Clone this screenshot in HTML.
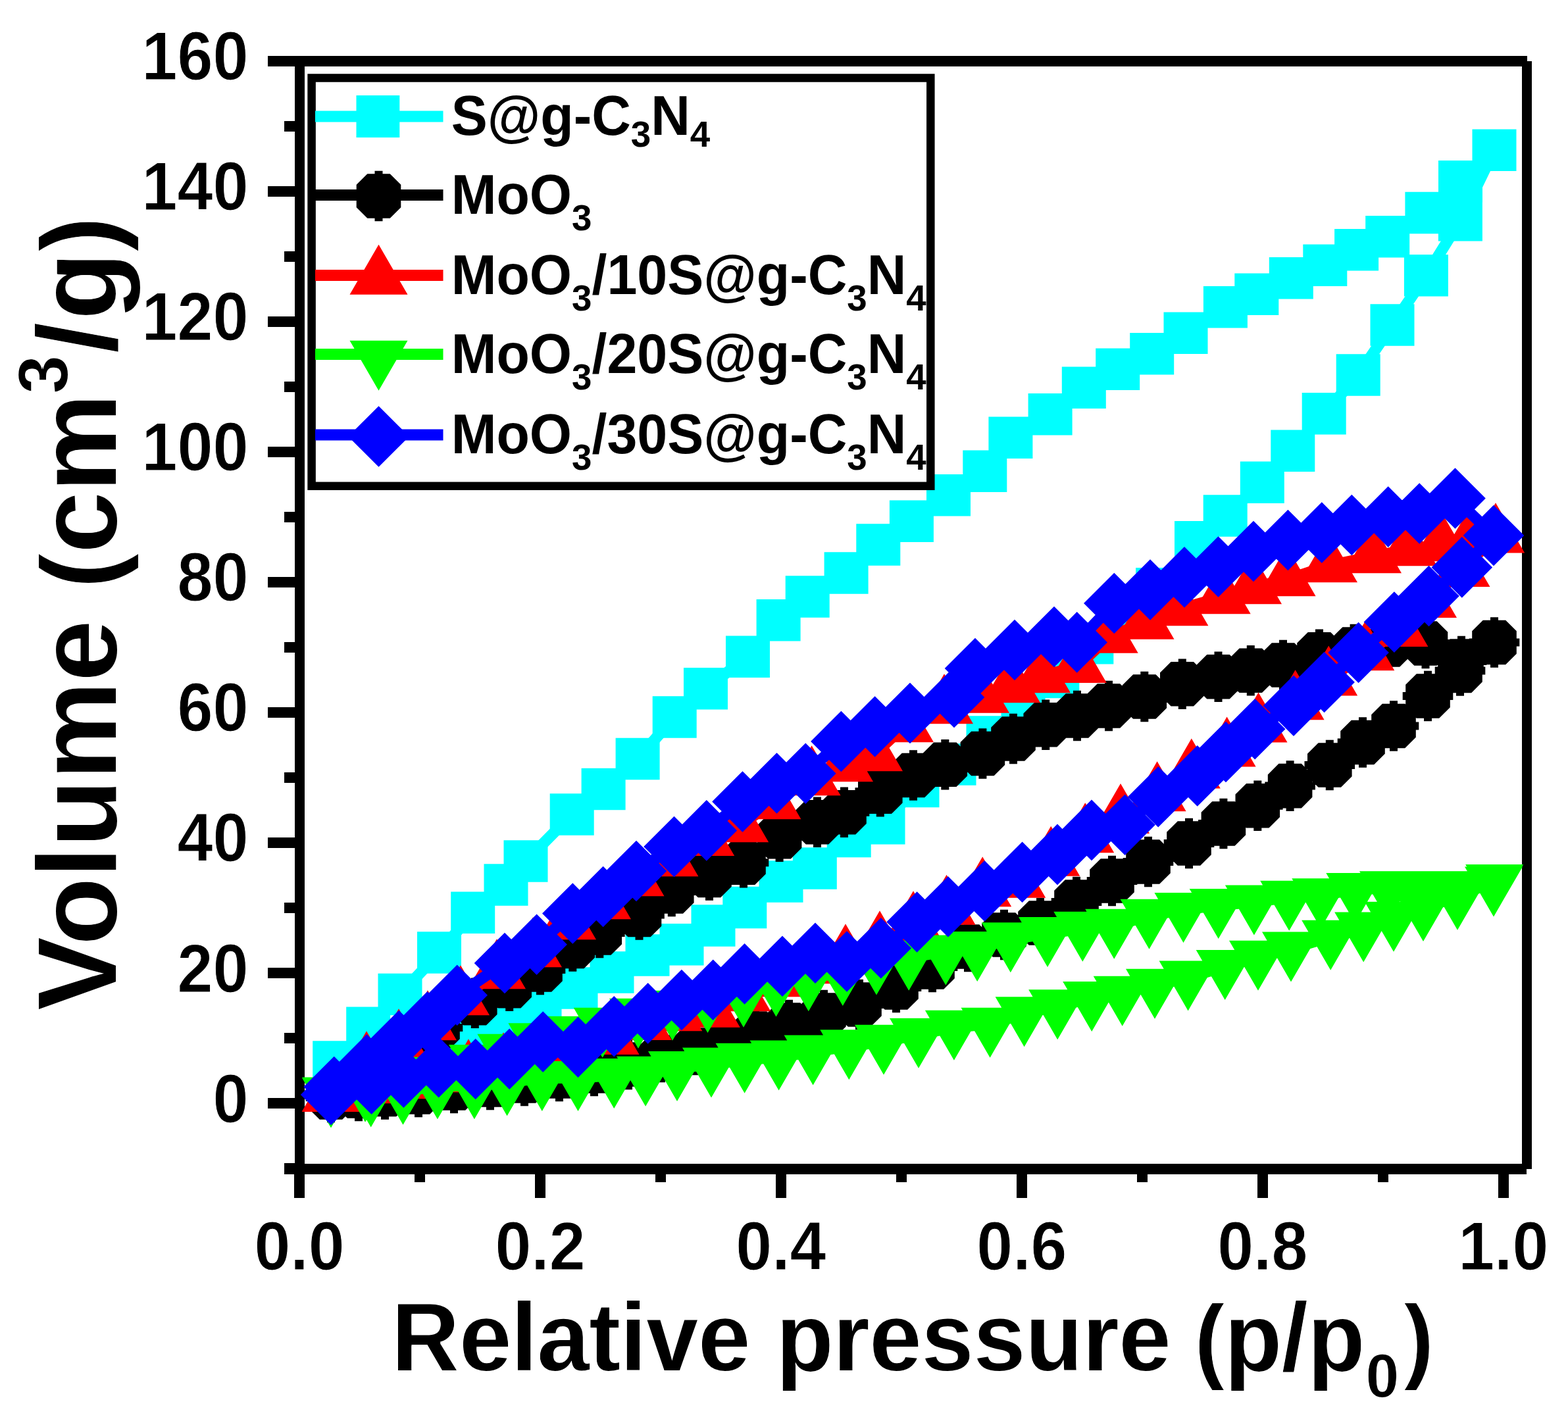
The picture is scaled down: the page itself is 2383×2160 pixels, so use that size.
<!DOCTYPE html>
<html lang="en"><head><meta charset="utf-8"><title>Nitrogen adsorption-desorption isotherms</title>
<style>
html,body{margin:0;padding:0;background:#fff}
body{width:2383px;height:2160px;overflow:hidden}
svg{display:block}
text{font-family:"Liberation Sans",Arial,Helvetica,sans-serif;font-weight:700;fill:#000}
.tk{font-size:103px;stroke:#fff;stroke-width:1px}
.xt{font-size:149px}
.yt{font-size:172px}
.lg{font-size:84.5px}
</style></head><body>
<svg xmlns="http://www.w3.org/2000/svg" width="2383" height="2160" viewBox="0 0 2383 2160">
<rect width="2383" height="2160" fill="#fff"/>
<defs>
<clipPath id="plot"><rect x="455" y="93" width="1866" height="1684"/></clipPath>
<filter id="thinY" filterUnits="userSpaceOnUse" x="0" y="0" width="2383" height="2160" color-interpolation-filters="sRGB"><feOffset in="SourceGraphic" dx="0" dy="1.0" result="a"/><feOffset in="SourceGraphic" dx="0" dy="-1.0" result="b"/><feComposite in="a" in2="b" operator="in"/></filter>
<filter id="thinX" filterUnits="userSpaceOnUse" x="0" y="0" width="2383" height="2160" color-interpolation-filters="sRGB"><feOffset in="SourceGraphic" dx="1.0" dy="0" result="a"/><feOffset in="SourceGraphic" dx="-1.0" dy="0" result="b"/><feComposite in="a" in2="b" operator="in"/></filter>
<filter id="thinYs" filterUnits="userSpaceOnUse" x="0" y="0" width="2383" height="2160" color-interpolation-filters="sRGB"><feOffset in="SourceGraphic" dx="0" dy="0.8" result="a"/><feOffset in="SourceGraphic" dx="0" dy="-0.8" result="b"/><feComposite in="a" in2="b" operator="in"/></filter>
</defs>
<g fill="#000" shape-rendering="crispEdges">
<rect x="407" y="85" width="1913.5" height="16.3"/>
<rect x="431.6" y="1769.2" width="1888.6" height="16"/>
<rect x="447.5" y="93" width="15.5" height="1727.5"/>
<rect x="2313" y="93" width="15.4" height="1684"/>
<rect x="431.6" y="1768.2" width="17" height="16.2"/>
<rect x="407" y="1669.2" width="42" height="16.2"/>
<rect x="431.6" y="1570.2" width="17" height="16.2"/>
<rect x="407" y="1471.2" width="42" height="16.2"/>
<rect x="431.6" y="1372.1" width="17" height="16.2"/>
<rect x="407" y="1273.1" width="42" height="16.2"/>
<rect x="431.6" y="1174.1" width="17" height="16.2"/>
<rect x="407" y="1075.1" width="42" height="16.2"/>
<rect x="431.6" y="976.1" width="17" height="16.2"/>
<rect x="407" y="877" width="42" height="16.2"/>
<rect x="431.6" y="778" width="17" height="16.2"/>
<rect x="407" y="679" width="42" height="16.2"/>
<rect x="431.6" y="580" width="17" height="16.2"/>
<rect x="407" y="481" width="42" height="16.2"/>
<rect x="431.6" y="381.9" width="17" height="16.2"/>
<rect x="407" y="282.9" width="42" height="16.2"/>
<rect x="431.6" y="183.9" width="17" height="16.2"/>
<rect x="407" y="84.9" width="42" height="16.2"/>
<rect x="447.2" y="1777" width="15.6" height="43.5"/>
<rect x="630.2" y="1777" width="15.6" height="20.3"/>
<rect x="813.2" y="1777" width="15.6" height="43.5"/>
<rect x="996.1" y="1777" width="15.6" height="20.3"/>
<rect x="1179.1" y="1777" width="15.6" height="43.5"/>
<rect x="1362.1" y="1777" width="15.6" height="20.3"/>
<rect x="1545.1" y="1777" width="15.6" height="43.5"/>
<rect x="1728.1" y="1777" width="15.6" height="20.3"/>
<rect x="1911" y="1777" width="15.6" height="43.5"/>
<rect x="2094" y="1777" width="15.6" height="20.3"/>
<rect x="2277" y="1777" width="15.6" height="43.5"/>
</g>
<g clip-path="url(#plot)">
<g fill="#00ffff" stroke="none">
<polyline points="508.7,1614.1 560,1625 610,1614 660,1598 712,1575 765,1552 820,1527 875,1502 930,1478 984,1452 1036,1435.7 1084,1407 1131.8,1379.6 1187,1340 1238.3,1320 1290.2,1271.6 1342,1251.7 1394,1195.5 1450,1162 1502,1120 1555,1075 1606.8,1029.6 1658.8,977.7 1710,935 1759.6,894.8 1818.5,823.6 1862.2,784 1918.3,733.3 1964.8,685.4 2012.2,628.6 2064.2,570 2116,494 2167.4,418.7 2219.4,334.7 2271,228.3 2271,228.3 2219.5,275.6 2168.9,323.5 2108.7,359.6 2061.6,379.6 2013.8,403.4 1962.3,422.6 1909.8,447.2 1862.4,466.6 1802,506.3 1750.7,537.9 1698.7,561.2 1647.3,589.4 1596.1,629.6 1535.9,665.2 1496.8,716.3 1441.5,752.7 1385.4,792.4 1334.8,828 1286.1,871 1227.2,907 1183.1,942.7 1136.5,998.2 1072.5,1046.7 1025.2,1089.9 969.1,1153.4 917.1,1199.4 869.2,1238 799,1309 769,1345 718.7,1387.2 667.5,1448 608,1511.5 559.7,1562.2 508.7,1614.1" fill="none" stroke="#00ffff" stroke-width="17" stroke-linejoin="round"/>
<path d="M475.2 1582.3h67v63.5h-67zM526.5 1593.2h67v63.5h-67zM576.5 1582.2h67v63.5h-67zM626.5 1566.2h67v63.5h-67zM678.5 1543.2h67v63.5h-67zM731.5 1520.2h67v63.5h-67zM786.5 1495.2h67v63.5h-67zM841.5 1470.2h67v63.5h-67zM896.5 1446.2h67v63.5h-67zM950.5 1420.2h67v63.5h-67zM1002.5 1404h67v63.5h-67zM1050.5 1375.2h67v63.5h-67zM1098.3 1347.8h67v63.5h-67zM1153.5 1308.2h67v63.5h-67zM1204.8 1288.2h67v63.5h-67zM1256.7 1239.8h67v63.5h-67zM1308.5 1220h67v63.5h-67zM1360.5 1163.8h67v63.5h-67zM1416.5 1130.2h67v63.5h-67zM1468.5 1088.2h67v63.5h-67zM1521.5 1043.2h67v63.5h-67zM1573.3 997.8h67v63.5h-67zM1625.3 946h67v63.5h-67zM1676.5 903.2h67v63.5h-67zM1726.1 863h67v63.5h-67zM1785 791.9h67v63.5h-67zM1828.7 752.2h67v63.5h-67zM1884.8 701.5h67v63.5h-67zM1931.3 653.6h67v63.5h-67zM1978.7 596.9h67v63.5h-67zM2030.7 538.2h67v63.5h-67zM2082.5 462.2h67v63.5h-67zM2133.9 386.9h67v63.5h-67zM2185.9 302.9h67v63.5h-67zM2237.5 196.6h67v63.5h-67zM2237.5 196.6h67v63.5h-67zM2186 243.9h67v63.5h-67zM2135.4 291.8h67v63.5h-67zM2075.2 327.9h67v63.5h-67zM2028.1 347.9h67v63.5h-67zM1980.3 371.6h67v63.5h-67zM1928.8 390.9h67v63.5h-67zM1876.3 415.4h67v63.5h-67zM1828.9 434.9h67v63.5h-67zM1768.5 474.6h67v63.5h-67zM1717.2 506.1h67v63.5h-67zM1665.2 529.5h67v63.5h-67zM1613.8 557.6h67v63.5h-67zM1562.6 597.9h67v63.5h-67zM1502.4 633.5h67v63.5h-67zM1463.3 684.5h67v63.5h-67zM1408 721h67v63.5h-67zM1351.9 760.6h67v63.5h-67zM1301.3 796.2h67v63.5h-67zM1252.6 839.2h67v63.5h-67zM1193.7 875.2h67v63.5h-67zM1149.6 911h67v63.5h-67zM1103 966.5h67v63.5h-67zM1039 1015h67v63.5h-67zM991.7 1058.2h67v63.5h-67zM935.6 1121.7h67v63.5h-67zM883.6 1167.7h67v63.5h-67zM835.7 1206.2h67v63.5h-67zM765.5 1277.2h67v63.5h-67zM735.5 1313.2h67v63.5h-67zM685.2 1355.5h67v63.5h-67zM634 1416.2h67v63.5h-67zM574.5 1479.8h67v63.5h-67zM526.2 1530.5h67v63.5h-67zM475.2 1582.3h67v63.5h-67z"/>
</g>
<g fill="#000000" stroke="none">
<polyline points="503,1668 545,1666 585,1663.5 636,1660 690,1654 745,1649 797,1643 850,1636 903,1628 955,1618 1005,1607 1055,1596 1100,1585 1148,1571 1199,1558 1252,1543 1306,1527 1362,1501 1417,1470 1471,1439 1526,1421 1581,1403 1636,1371 1690,1339 1745,1310 1807,1282 1859.4,1252 1911.3,1224.7 1960.6,1194.6 2020.8,1163 2071,1128.5 2118,1103.5 2170,1058 2219,1019.4 2271,976.5 2271,976.5 2221,1005 2166.5,978 2110,980 2057.6,987 2005,994.8 1950,1011 1900.8,1019.3 1851.5,1028.8 1796.8,1039.8 1739.3,1059 1685,1073 1637,1088 1589.2,1101.7 1540,1123 1493.4,1145.5 1436.3,1162.3 1388,1178.5 1337.8,1203.3 1283,1234.8 1242,1249.8 1184.6,1271.7 1130,1311.3 1078,1330.5 1020.8,1355 971.5,1390.5 911.3,1418 870.3,1438.4 821,1474 774.2,1498.6 721.8,1524.8 665,1562 610,1598 555,1630 503,1664" fill="none" stroke="#000000" stroke-width="17" stroke-linejoin="round"/>
<path d="M497 1634.2L497 1629.7L509 1629.7L509 1634.2L520.2 1634.2L536.8 1650.8L536.8 1662L541.3 1662L541.3 1674L536.8 1674L536.8 1685.2L520.2 1701.8L509 1701.8L509 1706.3L497 1706.3L497 1701.8L485.8 1701.8L469.2 1685.2L469.2 1674L464.7 1674L464.7 1662L469.2 1662L469.2 1650.8L485.8 1634.2zM539 1632.2L539 1627.7L551 1627.7L551 1632.2L562.2 1632.2L578.8 1648.8L578.8 1660L583.3 1660L583.3 1672L578.8 1672L578.8 1683.2L562.2 1699.8L551 1699.8L551 1704.3L539 1704.3L539 1699.8L527.8 1699.8L511.2 1683.2L511.2 1672L506.7 1672L506.7 1660L511.2 1660L511.2 1648.8L527.8 1632.2zM579 1629.7L579 1625.2L591 1625.2L591 1629.7L602.2 1629.7L618.8 1646.3L618.8 1657.5L623.3 1657.5L623.3 1669.5L618.8 1669.5L618.8 1680.7L602.2 1697.3L591 1697.3L591 1701.8L579 1701.8L579 1697.3L567.8 1697.3L551.2 1680.7L551.2 1669.5L546.7 1669.5L546.7 1657.5L551.2 1657.5L551.2 1646.3L567.8 1629.7zM630 1626.2L630 1621.7L642 1621.7L642 1626.2L653.2 1626.2L669.8 1642.8L669.8 1654L674.3 1654L674.3 1666L669.8 1666L669.8 1677.2L653.2 1693.8L642 1693.8L642 1698.3L630 1698.3L630 1693.8L618.8 1693.8L602.2 1677.2L602.2 1666L597.7 1666L597.7 1654L602.2 1654L602.2 1642.8L618.8 1626.2zM684 1620.2L684 1615.7L696 1615.7L696 1620.2L707.2 1620.2L723.8 1636.8L723.8 1648L728.3 1648L728.3 1660L723.8 1660L723.8 1671.2L707.2 1687.8L696 1687.8L696 1692.3L684 1692.3L684 1687.8L672.8 1687.8L656.2 1671.2L656.2 1660L651.7 1660L651.7 1648L656.2 1648L656.2 1636.8L672.8 1620.2zM739 1615.2L739 1610.7L751 1610.7L751 1615.2L762.2 1615.2L778.8 1631.8L778.8 1643L783.3 1643L783.3 1655L778.8 1655L778.8 1666.2L762.2 1682.8L751 1682.8L751 1687.3L739 1687.3L739 1682.8L727.8 1682.8L711.2 1666.2L711.2 1655L706.7 1655L706.7 1643L711.2 1643L711.2 1631.8L727.8 1615.2zM791 1609.2L791 1604.7L803 1604.7L803 1609.2L814.2 1609.2L830.8 1625.8L830.8 1637L835.3 1637L835.3 1649L830.8 1649L830.8 1660.2L814.2 1676.8L803 1676.8L803 1681.3L791 1681.3L791 1676.8L779.8 1676.8L763.2 1660.2L763.2 1649L758.7 1649L758.7 1637L763.2 1637L763.2 1625.8L779.8 1609.2zM844 1602.2L844 1597.7L856 1597.7L856 1602.2L867.2 1602.2L883.8 1618.8L883.8 1630L888.3 1630L888.3 1642L883.8 1642L883.8 1653.2L867.2 1669.8L856 1669.8L856 1674.3L844 1674.3L844 1669.8L832.8 1669.8L816.2 1653.2L816.2 1642L811.7 1642L811.7 1630L816.2 1630L816.2 1618.8L832.8 1602.2zM897 1594.2L897 1589.7L909 1589.7L909 1594.2L920.2 1594.2L936.8 1610.8L936.8 1622L941.3 1622L941.3 1634L936.8 1634L936.8 1645.2L920.2 1661.8L909 1661.8L909 1666.3L897 1666.3L897 1661.8L885.8 1661.8L869.2 1645.2L869.2 1634L864.7 1634L864.7 1622L869.2 1622L869.2 1610.8L885.8 1594.2zM949 1584.2L949 1579.7L961 1579.7L961 1584.2L972.2 1584.2L988.8 1600.8L988.8 1612L993.3 1612L993.3 1624L988.8 1624L988.8 1635.2L972.2 1651.8L961 1651.8L961 1656.3L949 1656.3L949 1651.8L937.8 1651.8L921.2 1635.2L921.2 1624L916.7 1624L916.7 1612L921.2 1612L921.2 1600.8L937.8 1584.2zM999 1573.2L999 1568.7L1011 1568.7L1011 1573.2L1022.2 1573.2L1038.8 1589.8L1038.8 1601L1043.3 1601L1043.3 1613L1038.8 1613L1038.8 1624.2L1022.2 1640.8L1011 1640.8L1011 1645.3L999 1645.3L999 1640.8L987.8 1640.8L971.2 1624.2L971.2 1613L966.7 1613L966.7 1601L971.2 1601L971.2 1589.8L987.8 1573.2zM1049 1562.2L1049 1557.7L1061 1557.7L1061 1562.2L1072.2 1562.2L1088.8 1578.8L1088.8 1590L1093.3 1590L1093.3 1602L1088.8 1602L1088.8 1613.2L1072.2 1629.8L1061 1629.8L1061 1634.3L1049 1634.3L1049 1629.8L1037.8 1629.8L1021.2 1613.2L1021.2 1602L1016.7 1602L1016.7 1590L1021.2 1590L1021.2 1578.8L1037.8 1562.2zM1094 1551.2L1094 1546.7L1106 1546.7L1106 1551.2L1117.2 1551.2L1133.8 1567.8L1133.8 1579L1138.3 1579L1138.3 1591L1133.8 1591L1133.8 1602.2L1117.2 1618.8L1106 1618.8L1106 1623.3L1094 1623.3L1094 1618.8L1082.8 1618.8L1066.2 1602.2L1066.2 1591L1061.7 1591L1061.7 1579L1066.2 1579L1066.2 1567.8L1082.8 1551.2zM1142 1537.2L1142 1532.7L1154 1532.7L1154 1537.2L1165.2 1537.2L1181.8 1553.8L1181.8 1565L1186.3 1565L1186.3 1577L1181.8 1577L1181.8 1588.2L1165.2 1604.8L1154 1604.8L1154 1609.3L1142 1609.3L1142 1604.8L1130.8 1604.8L1114.2 1588.2L1114.2 1577L1109.7 1577L1109.7 1565L1114.2 1565L1114.2 1553.8L1130.8 1537.2zM1193 1524.2L1193 1519.7L1205 1519.7L1205 1524.2L1216.2 1524.2L1232.8 1540.8L1232.8 1552L1237.3 1552L1237.3 1564L1232.8 1564L1232.8 1575.2L1216.2 1591.8L1205 1591.8L1205 1596.3L1193 1596.3L1193 1591.8L1181.8 1591.8L1165.2 1575.2L1165.2 1564L1160.7 1564L1160.7 1552L1165.2 1552L1165.2 1540.8L1181.8 1524.2zM1246 1509.2L1246 1504.7L1258 1504.7L1258 1509.2L1269.2 1509.2L1285.8 1525.8L1285.8 1537L1290.3 1537L1290.3 1549L1285.8 1549L1285.8 1560.2L1269.2 1576.8L1258 1576.8L1258 1581.3L1246 1581.3L1246 1576.8L1234.8 1576.8L1218.2 1560.2L1218.2 1549L1213.7 1549L1213.7 1537L1218.2 1537L1218.2 1525.8L1234.8 1509.2zM1300 1493.2L1300 1488.7L1312 1488.7L1312 1493.2L1323.2 1493.2L1339.8 1509.8L1339.8 1521L1344.3 1521L1344.3 1533L1339.8 1533L1339.8 1544.2L1323.2 1560.8L1312 1560.8L1312 1565.3L1300 1565.3L1300 1560.8L1288.8 1560.8L1272.2 1544.2L1272.2 1533L1267.7 1533L1267.7 1521L1272.2 1521L1272.2 1509.8L1288.8 1493.2zM1356 1467.2L1356 1462.7L1368 1462.7L1368 1467.2L1379.2 1467.2L1395.8 1483.8L1395.8 1495L1400.3 1495L1400.3 1507L1395.8 1507L1395.8 1518.2L1379.2 1534.8L1368 1534.8L1368 1539.3L1356 1539.3L1356 1534.8L1344.8 1534.8L1328.2 1518.2L1328.2 1507L1323.7 1507L1323.7 1495L1328.2 1495L1328.2 1483.8L1344.8 1467.2zM1411 1436.2L1411 1431.7L1423 1431.7L1423 1436.2L1434.2 1436.2L1450.8 1452.8L1450.8 1464L1455.3 1464L1455.3 1476L1450.8 1476L1450.8 1487.2L1434.2 1503.8L1423 1503.8L1423 1508.3L1411 1508.3L1411 1503.8L1399.8 1503.8L1383.2 1487.2L1383.2 1476L1378.7 1476L1378.7 1464L1383.2 1464L1383.2 1452.8L1399.8 1436.2zM1465 1405.2L1465 1400.7L1477 1400.7L1477 1405.2L1488.2 1405.2L1504.8 1421.8L1504.8 1433L1509.3 1433L1509.3 1445L1504.8 1445L1504.8 1456.2L1488.2 1472.8L1477 1472.8L1477 1477.3L1465 1477.3L1465 1472.8L1453.8 1472.8L1437.2 1456.2L1437.2 1445L1432.7 1445L1432.7 1433L1437.2 1433L1437.2 1421.8L1453.8 1405.2zM1520 1387.2L1520 1382.7L1532 1382.7L1532 1387.2L1543.2 1387.2L1559.8 1403.8L1559.8 1415L1564.3 1415L1564.3 1427L1559.8 1427L1559.8 1438.2L1543.2 1454.8L1532 1454.8L1532 1459.3L1520 1459.3L1520 1454.8L1508.8 1454.8L1492.2 1438.2L1492.2 1427L1487.7 1427L1487.7 1415L1492.2 1415L1492.2 1403.8L1508.8 1387.2zM1575 1369.2L1575 1364.7L1587 1364.7L1587 1369.2L1598.2 1369.2L1614.8 1385.8L1614.8 1397L1619.3 1397L1619.3 1409L1614.8 1409L1614.8 1420.2L1598.2 1436.8L1587 1436.8L1587 1441.3L1575 1441.3L1575 1436.8L1563.8 1436.8L1547.2 1420.2L1547.2 1409L1542.7 1409L1542.7 1397L1547.2 1397L1547.2 1385.8L1563.8 1369.2zM1630 1337.2L1630 1332.7L1642 1332.7L1642 1337.2L1653.2 1337.2L1669.8 1353.8L1669.8 1365L1674.3 1365L1674.3 1377L1669.8 1377L1669.8 1388.2L1653.2 1404.8L1642 1404.8L1642 1409.3L1630 1409.3L1630 1404.8L1618.8 1404.8L1602.2 1388.2L1602.2 1377L1597.7 1377L1597.7 1365L1602.2 1365L1602.2 1353.8L1618.8 1337.2zM1684 1305.2L1684 1300.7L1696 1300.7L1696 1305.2L1707.2 1305.2L1723.8 1321.8L1723.8 1333L1728.3 1333L1728.3 1345L1723.8 1345L1723.8 1356.2L1707.2 1372.8L1696 1372.8L1696 1377.3L1684 1377.3L1684 1372.8L1672.8 1372.8L1656.2 1356.2L1656.2 1345L1651.7 1345L1651.7 1333L1656.2 1333L1656.2 1321.8L1672.8 1305.2zM1739 1276.2L1739 1271.7L1751 1271.7L1751 1276.2L1762.2 1276.2L1778.8 1292.8L1778.8 1304L1783.3 1304L1783.3 1316L1778.8 1316L1778.8 1327.2L1762.2 1343.8L1751 1343.8L1751 1348.3L1739 1348.3L1739 1343.8L1727.8 1343.8L1711.2 1327.2L1711.2 1316L1706.7 1316L1706.7 1304L1711.2 1304L1711.2 1292.8L1727.8 1276.2zM1801 1248.2L1801 1243.7L1813 1243.7L1813 1248.2L1824.2 1248.2L1840.8 1264.8L1840.8 1276L1845.3 1276L1845.3 1288L1840.8 1288L1840.8 1299.2L1824.2 1315.8L1813 1315.8L1813 1320.3L1801 1320.3L1801 1315.8L1789.8 1315.8L1773.2 1299.2L1773.2 1288L1768.7 1288L1768.7 1276L1773.2 1276L1773.2 1264.8L1789.8 1248.2zM1853.4 1218.2L1853.4 1213.7L1865.4 1213.7L1865.4 1218.2L1876.6 1218.2L1893.2 1234.8L1893.2 1246L1897.7 1246L1897.7 1258L1893.2 1258L1893.2 1269.2L1876.6 1285.8L1865.4 1285.8L1865.4 1290.3L1853.4 1290.3L1853.4 1285.8L1842.2 1285.8L1825.6 1269.2L1825.6 1258L1821.1 1258L1821.1 1246L1825.6 1246L1825.6 1234.8L1842.2 1218.2zM1905.3 1190.9L1905.3 1186.4L1917.3 1186.4L1917.3 1190.9L1928.5 1190.9L1945.1 1207.5L1945.1 1218.7L1949.6 1218.7L1949.6 1230.7L1945.1 1230.7L1945.1 1241.9L1928.5 1258.5L1917.3 1258.5L1917.3 1263L1905.3 1263L1905.3 1258.5L1894.1 1258.5L1877.5 1241.9L1877.5 1230.7L1873 1230.7L1873 1218.7L1877.5 1218.7L1877.5 1207.5L1894.1 1190.9zM1954.6 1160.8L1954.6 1156.3L1966.6 1156.3L1966.6 1160.8L1977.8 1160.8L1994.4 1177.4L1994.4 1188.6L1998.9 1188.6L1998.9 1200.6L1994.4 1200.6L1994.4 1211.8L1977.8 1228.4L1966.6 1228.4L1966.6 1232.9L1954.6 1232.9L1954.6 1228.4L1943.4 1228.4L1926.8 1211.8L1926.8 1200.6L1922.3 1200.6L1922.3 1188.6L1926.8 1188.6L1926.8 1177.4L1943.4 1160.8zM2014.8 1129.2L2014.8 1124.7L2026.8 1124.7L2026.8 1129.2L2038 1129.2L2054.6 1145.8L2054.6 1157L2059.1 1157L2059.1 1169L2054.6 1169L2054.6 1180.2L2038 1196.8L2026.8 1196.8L2026.8 1201.3L2014.8 1201.3L2014.8 1196.8L2003.6 1196.8L1987 1180.2L1987 1169L1982.5 1169L1982.5 1157L1987 1157L1987 1145.8L2003.6 1129.2zM2065 1094.7L2065 1090.2L2077 1090.2L2077 1094.7L2088.2 1094.7L2104.8 1111.3L2104.8 1122.5L2109.3 1122.5L2109.3 1134.5L2104.8 1134.5L2104.8 1145.7L2088.2 1162.3L2077 1162.3L2077 1166.8L2065 1166.8L2065 1162.3L2053.8 1162.3L2037.2 1145.7L2037.2 1134.5L2032.7 1134.5L2032.7 1122.5L2037.2 1122.5L2037.2 1111.3L2053.8 1094.7zM2112 1069.7L2112 1065.2L2124 1065.2L2124 1069.7L2135.2 1069.7L2151.8 1086.3L2151.8 1097.5L2156.3 1097.5L2156.3 1109.5L2151.8 1109.5L2151.8 1120.7L2135.2 1137.3L2124 1137.3L2124 1141.8L2112 1141.8L2112 1137.3L2100.8 1137.3L2084.2 1120.7L2084.2 1109.5L2079.7 1109.5L2079.7 1097.5L2084.2 1097.5L2084.2 1086.3L2100.8 1069.7zM2164 1024.2L2164 1019.7L2176 1019.7L2176 1024.2L2187.2 1024.2L2203.8 1040.8L2203.8 1052L2208.3 1052L2208.3 1064L2203.8 1064L2203.8 1075.2L2187.2 1091.8L2176 1091.8L2176 1096.3L2164 1096.3L2164 1091.8L2152.8 1091.8L2136.2 1075.2L2136.2 1064L2131.7 1064L2131.7 1052L2136.2 1052L2136.2 1040.8L2152.8 1024.2zM2213 985.6L2213 981.1L2225 981.1L2225 985.6L2236.2 985.6L2252.8 1002.2L2252.8 1013.4L2257.3 1013.4L2257.3 1025.4L2252.8 1025.4L2252.8 1036.6L2236.2 1053.2L2225 1053.2L2225 1057.7L2213 1057.7L2213 1053.2L2201.8 1053.2L2185.2 1036.6L2185.2 1025.4L2180.7 1025.4L2180.7 1013.4L2185.2 1013.4L2185.2 1002.2L2201.8 985.6zM2265 942.7L2265 938.2L2277 938.2L2277 942.7L2288.2 942.7L2304.8 959.3L2304.8 970.5L2309.3 970.5L2309.3 982.5L2304.8 982.5L2304.8 993.7L2288.2 1010.3L2277 1010.3L2277 1014.8L2265 1014.8L2265 1010.3L2253.8 1010.3L2237.2 993.7L2237.2 982.5L2232.7 982.5L2232.7 970.5L2237.2 970.5L2237.2 959.3L2253.8 942.7zM2265 942.7L2265 938.2L2277 938.2L2277 942.7L2288.2 942.7L2304.8 959.3L2304.8 970.5L2309.3 970.5L2309.3 982.5L2304.8 982.5L2304.8 993.7L2288.2 1010.3L2277 1010.3L2277 1014.8L2265 1014.8L2265 1010.3L2253.8 1010.3L2237.2 993.7L2237.2 982.5L2232.7 982.5L2232.7 970.5L2237.2 970.5L2237.2 959.3L2253.8 942.7zM2215 971.2L2215 966.7L2227 966.7L2227 971.2L2238.2 971.2L2254.8 987.8L2254.8 999L2259.3 999L2259.3 1011L2254.8 1011L2254.8 1022.2L2238.2 1038.8L2227 1038.8L2227 1043.3L2215 1043.3L2215 1038.8L2203.8 1038.8L2187.2 1022.2L2187.2 1011L2182.7 1011L2182.7 999L2187.2 999L2187.2 987.8L2203.8 971.2zM2160.5 944.2L2160.5 939.7L2172.5 939.7L2172.5 944.2L2183.7 944.2L2200.3 960.8L2200.3 972L2204.8 972L2204.8 984L2200.3 984L2200.3 995.2L2183.7 1011.8L2172.5 1011.8L2172.5 1016.3L2160.5 1016.3L2160.5 1011.8L2149.3 1011.8L2132.7 995.2L2132.7 984L2128.2 984L2128.2 972L2132.7 972L2132.7 960.8L2149.3 944.2zM2104 946.2L2104 941.7L2116 941.7L2116 946.2L2127.2 946.2L2143.8 962.8L2143.8 974L2148.3 974L2148.3 986L2143.8 986L2143.8 997.2L2127.2 1013.8L2116 1013.8L2116 1018.3L2104 1018.3L2104 1013.8L2092.8 1013.8L2076.2 997.2L2076.2 986L2071.7 986L2071.7 974L2076.2 974L2076.2 962.8L2092.8 946.2zM2051.6 953.2L2051.6 948.7L2063.6 948.7L2063.6 953.2L2074.8 953.2L2091.4 969.8L2091.4 981L2095.9 981L2095.9 993L2091.4 993L2091.4 1004.2L2074.8 1020.8L2063.6 1020.8L2063.6 1025.3L2051.6 1025.3L2051.6 1020.8L2040.4 1020.8L2023.8 1004.2L2023.8 993L2019.3 993L2019.3 981L2023.8 981L2023.8 969.8L2040.4 953.2zM1999 961L1999 956.5L2011 956.5L2011 961L2022.2 961L2038.8 977.6L2038.8 988.8L2043.3 988.8L2043.3 1000.8L2038.8 1000.8L2038.8 1012L2022.2 1028.6L2011 1028.6L2011 1033.1L1999 1033.1L1999 1028.6L1987.8 1028.6L1971.2 1012L1971.2 1000.8L1966.7 1000.8L1966.7 988.8L1971.2 988.8L1971.2 977.6L1987.8 961zM1944 977.2L1944 972.7L1956 972.7L1956 977.2L1967.2 977.2L1983.8 993.8L1983.8 1005L1988.3 1005L1988.3 1017L1983.8 1017L1983.8 1028.2L1967.2 1044.8L1956 1044.8L1956 1049.3L1944 1049.3L1944 1044.8L1932.8 1044.8L1916.2 1028.2L1916.2 1017L1911.7 1017L1911.7 1005L1916.2 1005L1916.2 993.8L1932.8 977.2zM1894.8 985.5L1894.8 981L1906.8 981L1906.8 985.5L1918 985.5L1934.6 1002.1L1934.6 1013.3L1939.1 1013.3L1939.1 1025.3L1934.6 1025.3L1934.6 1036.5L1918 1053.1L1906.8 1053.1L1906.8 1057.6L1894.8 1057.6L1894.8 1053.1L1883.6 1053.1L1867 1036.5L1867 1025.3L1862.5 1025.3L1862.5 1013.3L1867 1013.3L1867 1002.1L1883.6 985.5zM1845.5 995L1845.5 990.5L1857.5 990.5L1857.5 995L1868.7 995L1885.3 1011.6L1885.3 1022.8L1889.8 1022.8L1889.8 1034.8L1885.3 1034.8L1885.3 1046L1868.7 1062.6L1857.5 1062.6L1857.5 1067.1L1845.5 1067.1L1845.5 1062.6L1834.3 1062.6L1817.7 1046L1817.7 1034.8L1813.2 1034.8L1813.2 1022.8L1817.7 1022.8L1817.7 1011.6L1834.3 995zM1790.8 1006L1790.8 1001.5L1802.8 1001.5L1802.8 1006L1814 1006L1830.6 1022.6L1830.6 1033.8L1835.1 1033.8L1835.1 1045.8L1830.6 1045.8L1830.6 1057L1814 1073.6L1802.8 1073.6L1802.8 1078.1L1790.8 1078.1L1790.8 1073.6L1779.6 1073.6L1763 1057L1763 1045.8L1758.5 1045.8L1758.5 1033.8L1763 1033.8L1763 1022.6L1779.6 1006zM1733.3 1025.2L1733.3 1020.7L1745.3 1020.7L1745.3 1025.2L1756.5 1025.2L1773.1 1041.8L1773.1 1053L1777.6 1053L1777.6 1065L1773.1 1065L1773.1 1076.2L1756.5 1092.8L1745.3 1092.8L1745.3 1097.3L1733.3 1097.3L1733.3 1092.8L1722.1 1092.8L1705.5 1076.2L1705.5 1065L1701 1065L1701 1053L1705.5 1053L1705.5 1041.8L1722.1 1025.2zM1679 1039.2L1679 1034.7L1691 1034.7L1691 1039.2L1702.2 1039.2L1718.8 1055.8L1718.8 1067L1723.3 1067L1723.3 1079L1718.8 1079L1718.8 1090.2L1702.2 1106.8L1691 1106.8L1691 1111.3L1679 1111.3L1679 1106.8L1667.8 1106.8L1651.2 1090.2L1651.2 1079L1646.7 1079L1646.7 1067L1651.2 1067L1651.2 1055.8L1667.8 1039.2zM1631 1054.2L1631 1049.7L1643 1049.7L1643 1054.2L1654.2 1054.2L1670.8 1070.8L1670.8 1082L1675.3 1082L1675.3 1094L1670.8 1094L1670.8 1105.2L1654.2 1121.8L1643 1121.8L1643 1126.3L1631 1126.3L1631 1121.8L1619.8 1121.8L1603.2 1105.2L1603.2 1094L1598.7 1094L1598.7 1082L1603.2 1082L1603.2 1070.8L1619.8 1054.2zM1583.2 1067.9L1583.2 1063.4L1595.2 1063.4L1595.2 1067.9L1606.4 1067.9L1623 1084.5L1623 1095.7L1627.5 1095.7L1627.5 1107.7L1623 1107.7L1623 1118.9L1606.4 1135.5L1595.2 1135.5L1595.2 1140L1583.2 1140L1583.2 1135.5L1572 1135.5L1555.4 1118.9L1555.4 1107.7L1550.9 1107.7L1550.9 1095.7L1555.4 1095.7L1555.4 1084.5L1572 1067.9zM1534 1089.2L1534 1084.7L1546 1084.7L1546 1089.2L1557.2 1089.2L1573.8 1105.8L1573.8 1117L1578.3 1117L1578.3 1129L1573.8 1129L1573.8 1140.2L1557.2 1156.8L1546 1156.8L1546 1161.3L1534 1161.3L1534 1156.8L1522.8 1156.8L1506.2 1140.2L1506.2 1129L1501.7 1129L1501.7 1117L1506.2 1117L1506.2 1105.8L1522.8 1089.2zM1487.4 1111.7L1487.4 1107.2L1499.4 1107.2L1499.4 1111.7L1510.6 1111.7L1527.2 1128.3L1527.2 1139.5L1531.7 1139.5L1531.7 1151.5L1527.2 1151.5L1527.2 1162.7L1510.6 1179.3L1499.4 1179.3L1499.4 1183.8L1487.4 1183.8L1487.4 1179.3L1476.2 1179.3L1459.6 1162.7L1459.6 1151.5L1455.1 1151.5L1455.1 1139.5L1459.6 1139.5L1459.6 1128.3L1476.2 1111.7zM1430.3 1128.5L1430.3 1124L1442.3 1124L1442.3 1128.5L1453.5 1128.5L1470.1 1145.1L1470.1 1156.3L1474.6 1156.3L1474.6 1168.3L1470.1 1168.3L1470.1 1179.5L1453.5 1196.1L1442.3 1196.1L1442.3 1200.6L1430.3 1200.6L1430.3 1196.1L1419.1 1196.1L1402.5 1179.5L1402.5 1168.3L1398 1168.3L1398 1156.3L1402.5 1156.3L1402.5 1145.1L1419.1 1128.5zM1382 1144.7L1382 1140.2L1394 1140.2L1394 1144.7L1405.2 1144.7L1421.8 1161.3L1421.8 1172.5L1426.3 1172.5L1426.3 1184.5L1421.8 1184.5L1421.8 1195.7L1405.2 1212.3L1394 1212.3L1394 1216.8L1382 1216.8L1382 1212.3L1370.8 1212.3L1354.2 1195.7L1354.2 1184.5L1349.7 1184.5L1349.7 1172.5L1354.2 1172.5L1354.2 1161.3L1370.8 1144.7zM1331.8 1169.5L1331.8 1165L1343.8 1165L1343.8 1169.5L1355 1169.5L1371.6 1186.1L1371.6 1197.3L1376.1 1197.3L1376.1 1209.3L1371.6 1209.3L1371.6 1220.5L1355 1237.1L1343.8 1237.1L1343.8 1241.6L1331.8 1241.6L1331.8 1237.1L1320.6 1237.1L1304 1220.5L1304 1209.3L1299.5 1209.3L1299.5 1197.3L1304 1197.3L1304 1186.1L1320.6 1169.5zM1277 1201L1277 1196.5L1289 1196.5L1289 1201L1300.2 1201L1316.8 1217.6L1316.8 1228.8L1321.3 1228.8L1321.3 1240.8L1316.8 1240.8L1316.8 1252L1300.2 1268.6L1289 1268.6L1289 1273.1L1277 1273.1L1277 1268.6L1265.8 1268.6L1249.2 1252L1249.2 1240.8L1244.7 1240.8L1244.7 1228.8L1249.2 1228.8L1249.2 1217.6L1265.8 1201zM1236 1216L1236 1211.5L1248 1211.5L1248 1216L1259.2 1216L1275.8 1232.6L1275.8 1243.8L1280.3 1243.8L1280.3 1255.8L1275.8 1255.8L1275.8 1267L1259.2 1283.6L1248 1283.6L1248 1288.1L1236 1288.1L1236 1283.6L1224.8 1283.6L1208.2 1267L1208.2 1255.8L1203.7 1255.8L1203.7 1243.8L1208.2 1243.8L1208.2 1232.6L1224.8 1216zM1178.6 1237.9L1178.6 1233.4L1190.6 1233.4L1190.6 1237.9L1201.8 1237.9L1218.4 1254.5L1218.4 1265.7L1222.9 1265.7L1222.9 1277.7L1218.4 1277.7L1218.4 1288.9L1201.8 1305.5L1190.6 1305.5L1190.6 1310L1178.6 1310L1178.6 1305.5L1167.4 1305.5L1150.8 1288.9L1150.8 1277.7L1146.3 1277.7L1146.3 1265.7L1150.8 1265.7L1150.8 1254.5L1167.4 1237.9zM1124 1277.5L1124 1273L1136 1273L1136 1277.5L1147.2 1277.5L1163.8 1294.1L1163.8 1305.3L1168.3 1305.3L1168.3 1317.3L1163.8 1317.3L1163.8 1328.5L1147.2 1345.1L1136 1345.1L1136 1349.6L1124 1349.6L1124 1345.1L1112.8 1345.1L1096.2 1328.5L1096.2 1317.3L1091.7 1317.3L1091.7 1305.3L1096.2 1305.3L1096.2 1294.1L1112.8 1277.5zM1072 1296.7L1072 1292.2L1084 1292.2L1084 1296.7L1095.2 1296.7L1111.8 1313.3L1111.8 1324.5L1116.3 1324.5L1116.3 1336.5L1111.8 1336.5L1111.8 1347.7L1095.2 1364.3L1084 1364.3L1084 1368.8L1072 1368.8L1072 1364.3L1060.8 1364.3L1044.2 1347.7L1044.2 1336.5L1039.7 1336.5L1039.7 1324.5L1044.2 1324.5L1044.2 1313.3L1060.8 1296.7zM1014.8 1321.2L1014.8 1316.7L1026.8 1316.7L1026.8 1321.2L1038 1321.2L1054.6 1337.8L1054.6 1349L1059.1 1349L1059.1 1361L1054.6 1361L1054.6 1372.2L1038 1388.8L1026.8 1388.8L1026.8 1393.3L1014.8 1393.3L1014.8 1388.8L1003.6 1388.8L987 1372.2L987 1361L982.5 1361L982.5 1349L987 1349L987 1337.8L1003.6 1321.2zM965.5 1356.7L965.5 1352.2L977.5 1352.2L977.5 1356.7L988.7 1356.7L1005.3 1373.3L1005.3 1384.5L1009.8 1384.5L1009.8 1396.5L1005.3 1396.5L1005.3 1407.7L988.7 1424.3L977.5 1424.3L977.5 1428.8L965.5 1428.8L965.5 1424.3L954.3 1424.3L937.7 1407.7L937.7 1396.5L933.2 1396.5L933.2 1384.5L937.7 1384.5L937.7 1373.3L954.3 1356.7zM905.3 1384.2L905.3 1379.7L917.3 1379.7L917.3 1384.2L928.5 1384.2L945.1 1400.8L945.1 1412L949.6 1412L949.6 1424L945.1 1424L945.1 1435.2L928.5 1451.8L917.3 1451.8L917.3 1456.3L905.3 1456.3L905.3 1451.8L894.1 1451.8L877.5 1435.2L877.5 1424L873 1424L873 1412L877.5 1412L877.5 1400.8L894.1 1384.2zM864.3 1404.6L864.3 1400.1L876.3 1400.1L876.3 1404.6L887.5 1404.6L904.1 1421.2L904.1 1432.4L908.6 1432.4L908.6 1444.4L904.1 1444.4L904.1 1455.6L887.5 1472.2L876.3 1472.2L876.3 1476.7L864.3 1476.7L864.3 1472.2L853.1 1472.2L836.5 1455.6L836.5 1444.4L832 1444.4L832 1432.4L836.5 1432.4L836.5 1421.2L853.1 1404.6zM815 1440.2L815 1435.7L827 1435.7L827 1440.2L838.2 1440.2L854.8 1456.8L854.8 1468L859.3 1468L859.3 1480L854.8 1480L854.8 1491.2L838.2 1507.8L827 1507.8L827 1512.3L815 1512.3L815 1507.8L803.8 1507.8L787.2 1491.2L787.2 1480L782.7 1480L782.7 1468L787.2 1468L787.2 1456.8L803.8 1440.2zM768.2 1464.8L768.2 1460.3L780.2 1460.3L780.2 1464.8L791.4 1464.8L808 1481.4L808 1492.6L812.5 1492.6L812.5 1504.6L808 1504.6L808 1515.8L791.4 1532.4L780.2 1532.4L780.2 1536.9L768.2 1536.9L768.2 1532.4L757 1532.4L740.4 1515.8L740.4 1504.6L735.9 1504.6L735.9 1492.6L740.4 1492.6L740.4 1481.4L757 1464.8zM715.8 1491L715.8 1486.5L727.8 1486.5L727.8 1491L739 1491L755.6 1507.6L755.6 1518.8L760.1 1518.8L760.1 1530.8L755.6 1530.8L755.6 1542L739 1558.6L727.8 1558.6L727.8 1563.1L715.8 1563.1L715.8 1558.6L704.6 1558.6L688 1542L688 1530.8L683.5 1530.8L683.5 1518.8L688 1518.8L688 1507.6L704.6 1491zM659 1528.2L659 1523.7L671 1523.7L671 1528.2L682.2 1528.2L698.8 1544.8L698.8 1556L703.3 1556L703.3 1568L698.8 1568L698.8 1579.2L682.2 1595.8L671 1595.8L671 1600.3L659 1600.3L659 1595.8L647.8 1595.8L631.2 1579.2L631.2 1568L626.7 1568L626.7 1556L631.2 1556L631.2 1544.8L647.8 1528.2zM604 1564.2L604 1559.7L616 1559.7L616 1564.2L627.2 1564.2L643.8 1580.8L643.8 1592L648.3 1592L648.3 1604L643.8 1604L643.8 1615.2L627.2 1631.8L616 1631.8L616 1636.3L604 1636.3L604 1631.8L592.8 1631.8L576.2 1615.2L576.2 1604L571.7 1604L571.7 1592L576.2 1592L576.2 1580.8L592.8 1564.2zM549 1596.2L549 1591.7L561 1591.7L561 1596.2L572.2 1596.2L588.8 1612.8L588.8 1624L593.3 1624L593.3 1636L588.8 1636L588.8 1647.2L572.2 1663.8L561 1663.8L561 1668.3L549 1668.3L549 1663.8L537.8 1663.8L521.2 1647.2L521.2 1636L516.7 1636L516.7 1624L521.2 1624L521.2 1612.8L537.8 1596.2zM497 1630.2L497 1625.7L509 1625.7L509 1630.2L520.2 1630.2L536.8 1646.8L536.8 1658L541.3 1658L541.3 1670L536.8 1670L536.8 1681.2L520.2 1697.8L509 1697.8L509 1702.3L497 1702.3L497 1697.8L485.8 1697.8L469.2 1681.2L469.2 1670L464.7 1670L464.7 1658L469.2 1658L469.2 1646.8L485.8 1630.2z"/>
</g>
<g fill="#ff0000" stroke="none">
<polyline points="503,1664.7 555,1652 608,1645 660,1635 712,1630 765,1620 818,1605 872,1598 927.5,1577.6 976.8,1555.7 1023.3,1542 1080.8,1536.5 1127.3,1512 1180,1490 1232,1470 1285,1455 1337,1435 1388,1405 1438.5,1380.4 1493.2,1353 1545.2,1339.4 1597.2,1306.5 1649.2,1271 1703,1241.6 1758.6,1208 1810.8,1173.2 1864.6,1140.2 1912.5,1103.3 1968.6,1069 2019.2,1032.2 2075.3,994 2126.4,957.6 2170,913.8 2220.5,866.7 2273,815.3 2273,815 2235,820 2190,828 2140,835 2086,846 2019,860 1955.6,881 1904,893 1856.7,908 1792.4,926 1740.5,946.5 1685.7,967.5 1637.8,1012.8 1583,1028 1537,1043 1490,1058.5 1435,1075 1375,1103 1328,1147 1283,1163 1233.6,1184 1173.4,1220 1124.2,1255 1072.2,1275.6 1017.4,1307 965.5,1337 915,1372 862,1403 810,1445 755,1478 700,1518 650,1556 606,1584 557,1618 503,1664" fill="none" stroke="#ff0000" stroke-width="17" stroke-linejoin="round"/>
<path d="M503 1614L547 1690L459 1690zM555 1601.3L599 1677.3L511 1677.3zM608 1594.3L652 1670.3L564 1670.3zM660 1584.3L704 1660.3L616 1660.3zM712 1579.3L756 1655.3L668 1655.3zM765 1569.3L809 1645.3L721 1645.3zM818 1554.3L862 1630.3L774 1630.3zM872 1547.3L916 1623.3L828 1623.3zM927.5 1526.9L971.5 1602.9L883.5 1602.9zM976.8 1505L1020.8 1581L932.8 1581zM1023.3 1491.3L1067.3 1567.3L979.3 1567.3zM1080.8 1485.8L1124.8 1561.8L1036.8 1561.8zM1127.3 1461.3L1171.3 1537.3L1083.3 1537.3zM1180 1439.3L1224 1515.3L1136 1515.3zM1232 1419.3L1276 1495.3L1188 1495.3zM1285 1404.3L1329 1480.3L1241 1480.3zM1337 1384.3L1381 1460.3L1293 1460.3zM1388 1354.3L1432 1430.3L1344 1430.3zM1438.5 1329.7L1482.5 1405.7L1394.5 1405.7zM1493.2 1302.3L1537.2 1378.3L1449.2 1378.3zM1545.2 1288.7L1589.2 1364.7L1501.2 1364.7zM1597.2 1255.8L1641.2 1331.8L1553.2 1331.8zM1649.2 1220.3L1693.2 1296.3L1605.2 1296.3zM1703 1190.9L1747 1266.9L1659 1266.9zM1758.6 1157.3L1802.6 1233.3L1714.6 1233.3zM1810.8 1122.5L1854.8 1198.5L1766.8 1198.5zM1864.6 1089.5L1908.6 1165.5L1820.6 1165.5zM1912.5 1052.6L1956.5 1128.6L1868.5 1128.6zM1968.6 1018.3L2012.6 1094.3L1924.6 1094.3zM2019.2 981.5L2063.2 1057.5L1975.2 1057.5zM2075.3 943.3L2119.3 1019.3L2031.3 1019.3zM2126.4 906.9L2170.4 982.9L2082.4 982.9zM2170 863.1L2214 939.1L2126 939.1zM2220.5 816L2264.5 892L2176.5 892zM2273 764.6L2317 840.6L2229 840.6zM2273 764.3L2317 840.3L2229 840.3zM2235 769.3L2279 845.3L2191 845.3zM2190 777.3L2234 853.3L2146 853.3zM2140 784.3L2184 860.3L2096 860.3zM2086 795.3L2130 871.3L2042 871.3zM2019 809.3L2063 885.3L1975 885.3zM1955.6 830.3L1999.6 906.3L1911.6 906.3zM1904 842.3L1948 918.3L1860 918.3zM1856.7 857.3L1900.7 933.3L1812.7 933.3zM1792.4 875.3L1836.4 951.3L1748.4 951.3zM1740.5 895.8L1784.5 971.8L1696.5 971.8zM1685.7 916.8L1729.7 992.8L1641.7 992.8zM1637.8 962.1L1681.8 1038.1L1593.8 1038.1zM1583 977.3L1627 1053.3L1539 1053.3zM1537 992.3L1581 1068.3L1493 1068.3zM1490 1007.8L1534 1083.8L1446 1083.8zM1435 1024.3L1479 1100.3L1391 1100.3zM1375 1052.3L1419 1128.3L1331 1128.3zM1328 1096.3L1372 1172.3L1284 1172.3zM1283 1112.3L1327 1188.3L1239 1188.3zM1233.6 1133.3L1277.6 1209.3L1189.6 1209.3zM1173.4 1169.3L1217.4 1245.3L1129.4 1245.3zM1124.2 1204.3L1168.2 1280.3L1080.2 1280.3zM1072.2 1224.9L1116.2 1300.9L1028.2 1300.9zM1017.4 1256.3L1061.4 1332.3L973.4 1332.3zM965.5 1286.3L1009.5 1362.3L921.5 1362.3zM915 1321.3L959 1397.3L871 1397.3zM862 1352.3L906 1428.3L818 1428.3zM810 1394.3L854 1470.3L766 1470.3zM755 1427.3L799 1503.3L711 1503.3zM700 1467.3L744 1543.3L656 1543.3zM650 1505.3L694 1581.3L606 1581.3zM606 1533.3L650 1609.3L562 1609.3zM557 1567.3L601 1643.3L513 1643.3zM503 1613.3L547 1689.3L459 1689.3z"/>
</g>
<g fill="#00ff00" stroke="none">
<polyline points="503.2,1662.7 563.7,1662.7 612.5,1659.1 664.9,1650.6 720.9,1650.6 770.6,1645.5 823.8,1638.4 878.5,1638.4 933.2,1634.3 981.1,1631 1029,1623.3 1081,1617.9 1131.6,1611 1183.6,1606.9 1235.6,1598.7 1290.3,1590.5 1343,1583 1396,1573 1449.9,1561 1504.6,1557 1556.6,1540.5 1607.2,1529.5 1659.2,1517.2 1705.7,1509 1755,1498 1805.6,1485.7 1861.7,1469.3 1912,1455 1962,1441.8 2022.2,1424 2072.2,1411.7 2118,1396 2163,1380.3 2215,1363 2271.2,1339.2 2270,1342.7 2218,1349.6 2163,1349.6 2110,1349.6 2059.3,1352.3 2007.3,1360.5 1959.2,1364 1905.9,1370.7 1851.7,1376.2 1798.5,1382.4 1746.5,1392 1693.2,1407 1645.3,1411 1592,1419.3 1535.8,1427.5 1485.2,1441.2 1437.3,1446.7 1381.2,1455 1332,1461.7 1280.8,1478.3 1228.8,1486.5 1179.5,1494.7 1130,1511 1075.5,1519.3 1022,1531 970,1543 915.7,1557 865,1570 816.4,1580.6 769.4,1597 726,1613.2 665,1632 610,1645 555,1655 503,1663.7" fill="none" stroke="#00ff00" stroke-width="17" stroke-linejoin="round"/>
<path d="M503.2 1713.4L547.2 1637.4L459.2 1637.4zM563.7 1713.4L607.7 1637.4L519.7 1637.4zM612.5 1709.8L656.5 1633.8L568.5 1633.8zM664.9 1701.3L708.9 1625.3L620.9 1625.3zM720.9 1701.3L764.9 1625.3L676.9 1625.3zM770.6 1696.2L814.6 1620.2L726.6 1620.2zM823.8 1689.1L867.8 1613.1L779.8 1613.1zM878.5 1689.1L922.5 1613.1L834.5 1613.1zM933.2 1685L977.2 1609L889.2 1609zM981.1 1681.7L1025.1 1605.7L937.1 1605.7zM1029 1674L1073 1598L985 1598zM1081 1668.6L1125 1592.6L1037 1592.6zM1131.6 1661.7L1175.6 1585.7L1087.6 1585.7zM1183.6 1657.6L1227.6 1581.6L1139.6 1581.6zM1235.6 1649.4L1279.6 1573.4L1191.6 1573.4zM1290.3 1641.2L1334.3 1565.2L1246.3 1565.2zM1343 1633.7L1387 1557.7L1299 1557.7zM1396 1623.7L1440 1547.7L1352 1547.7zM1449.9 1611.7L1493.9 1535.7L1405.9 1535.7zM1504.6 1607.7L1548.6 1531.7L1460.6 1531.7zM1556.6 1591.2L1600.6 1515.2L1512.6 1515.2zM1607.2 1580.2L1651.2 1504.2L1563.2 1504.2zM1659.2 1567.9L1703.2 1491.9L1615.2 1491.9zM1705.7 1559.7L1749.7 1483.7L1661.7 1483.7zM1755 1548.7L1799 1472.7L1711 1472.7zM1805.6 1536.4L1849.6 1460.4L1761.6 1460.4zM1861.7 1520L1905.7 1444L1817.7 1444zM1912 1505.7L1956 1429.7L1868 1429.7zM1962 1492.5L2006 1416.5L1918 1416.5zM2022.2 1474.7L2066.2 1398.7L1978.2 1398.7zM2072.2 1462.4L2116.2 1386.4L2028.2 1386.4zM2118 1446.7L2162 1370.7L2074 1370.7zM2163 1431L2207 1355L2119 1355zM2215 1413.7L2259 1337.7L2171 1337.7zM2271.2 1389.9L2315.2 1313.9L2227.2 1313.9zM2270 1393.4L2314 1317.4L2226 1317.4zM2218 1400.3L2262 1324.3L2174 1324.3zM2163 1400.3L2207 1324.3L2119 1324.3zM2110 1400.3L2154 1324.3L2066 1324.3zM2059.3 1403L2103.3 1327L2015.3 1327zM2007.3 1411.2L2051.3 1335.2L1963.3 1335.2zM1959.2 1414.7L2003.2 1338.7L1915.2 1338.7zM1905.9 1421.4L1949.9 1345.4L1861.9 1345.4zM1851.7 1426.9L1895.7 1350.9L1807.7 1350.9zM1798.5 1433.1L1842.5 1357.1L1754.5 1357.1zM1746.5 1442.7L1790.5 1366.7L1702.5 1366.7zM1693.2 1457.7L1737.2 1381.7L1649.2 1381.7zM1645.3 1461.7L1689.3 1385.7L1601.3 1385.7zM1592 1470L1636 1394L1548 1394zM1535.8 1478.2L1579.8 1402.2L1491.8 1402.2zM1485.2 1491.9L1529.2 1415.9L1441.2 1415.9zM1437.3 1497.4L1481.3 1421.4L1393.3 1421.4zM1381.2 1505.7L1425.2 1429.7L1337.2 1429.7zM1332 1512.4L1376 1436.4L1288 1436.4zM1280.8 1529L1324.8 1453L1236.8 1453zM1228.8 1537.2L1272.8 1461.2L1184.8 1461.2zM1179.5 1545.4L1223.5 1469.4L1135.5 1469.4zM1130 1561.7L1174 1485.7L1086 1485.7zM1075.5 1570L1119.5 1494L1031.5 1494zM1022 1581.7L1066 1505.7L978 1505.7zM970 1593.7L1014 1517.7L926 1517.7zM915.7 1607.7L959.7 1531.7L871.7 1531.7zM865 1620.7L909 1544.7L821 1544.7zM816.4 1631.3L860.4 1555.3L772.4 1555.3zM769.4 1647.7L813.4 1571.7L725.4 1571.7zM726 1663.9L770 1587.9L682 1587.9zM665 1682.7L709 1606.7L621 1606.7zM610 1695.7L654 1619.7L566 1619.7zM555 1705.7L599 1629.7L511 1629.7zM503 1714.4L547 1638.4L459 1638.4z"/>
</g>
<g fill="#0000ff" stroke="none">
<polyline points="503.2,1664 564.6,1647.6 613.4,1637.7 666.7,1622.3 722.7,1625 774.2,1609.7 825.2,1583.6 878.5,1591.8 933.2,1560.3 984.7,1540.4 1035.9,1520 1083.7,1504.8 1131.6,1480.4 1189,1468.7 1239,1448.7 1287,1461.5 1338.8,1441.2 1393.6,1401.5 1440.9,1378.2 1496.2,1354.4 1553.6,1325.7 1607,1298.9 1659,1261.9 1709.6,1253.7 1760.2,1211.3 1819.7,1179.4 1863,1143 1907.2,1108.2 1966,1072.7 2012.6,1037 2064.6,992 2118.9,945.6 2171.5,906 2221.8,862.4 2270,814 2211.5,757.5 2157.2,780.5 2109.7,785.6 2054.3,798 2008.8,809.6 1957.4,821 1905,838 1851.5,861.5 1800,877.4 1748,896.5 1693.3,917 1636.7,976.4 1602,968 1542,988 1482,1016 1450,1060 1383,1084 1329.6,1104.5 1278.4,1127 1224.3,1175.7 1180.5,1190.5 1128.5,1218.6 1073.8,1262.4 1024.5,1287 967,1324 916.6,1363 870.3,1388.5 815.6,1435.8 767,1464 694.7,1512.7 649.5,1553.4 606.2,1582 557.4,1618.4 507.7,1652" fill="none" stroke="#0000ff" stroke-width="17" stroke-linejoin="round"/>
<path d="M503.2 1617.7L549.5 1664L503.2 1710.3L456.9 1664zM564.6 1601.3L610.9 1647.6L564.6 1693.9L518.3 1647.6zM613.4 1591.4L659.7 1637.7L613.4 1684L567.1 1637.7zM666.7 1576L713 1622.3L666.7 1668.6L620.4 1622.3zM722.7 1578.7L769 1625L722.7 1671.3L676.4 1625zM774.2 1563.4L820.5 1609.7L774.2 1656L727.9 1609.7zM825.2 1537.3L871.5 1583.6L825.2 1629.9L778.9 1583.6zM878.5 1545.5L924.8 1591.8L878.5 1638.1L832.2 1591.8zM933.2 1514L979.5 1560.3L933.2 1606.6L886.9 1560.3zM984.7 1494.1L1031 1540.4L984.7 1586.7L938.4 1540.4zM1035.9 1473.7L1082.2 1520L1035.9 1566.3L989.6 1520zM1083.7 1458.5L1130 1504.8L1083.7 1551.1L1037.4 1504.8zM1131.6 1434.1L1177.9 1480.4L1131.6 1526.7L1085.3 1480.4zM1189 1422.4L1235.3 1468.7L1189 1515L1142.7 1468.7zM1239 1402.4L1285.3 1448.7L1239 1495L1192.7 1448.7zM1287 1415.2L1333.3 1461.5L1287 1507.8L1240.7 1461.5zM1338.8 1394.9L1385.1 1441.2L1338.8 1487.5L1292.5 1441.2zM1393.6 1355.2L1439.9 1401.5L1393.6 1447.8L1347.3 1401.5zM1440.9 1331.9L1487.2 1378.2L1440.9 1424.5L1394.6 1378.2zM1496.2 1308.1L1542.5 1354.4L1496.2 1400.7L1449.9 1354.4zM1553.6 1279.4L1599.9 1325.7L1553.6 1372L1507.3 1325.7zM1607 1252.6L1653.3 1298.9L1607 1345.2L1560.7 1298.9zM1659 1215.6L1705.3 1261.9L1659 1308.2L1612.7 1261.9zM1709.6 1207.4L1755.9 1253.7L1709.6 1300L1663.3 1253.7zM1760.2 1165L1806.5 1211.3L1760.2 1257.6L1713.9 1211.3zM1819.7 1133.1L1866 1179.4L1819.7 1225.7L1773.4 1179.4zM1863 1096.7L1909.3 1143L1863 1189.3L1816.7 1143zM1907.2 1061.9L1953.5 1108.2L1907.2 1154.5L1860.9 1108.2zM1966 1026.4L2012.3 1072.7L1966 1119L1919.7 1072.7zM2012.6 990.7L2058.9 1037L2012.6 1083.3L1966.3 1037zM2064.6 945.7L2110.9 992L2064.6 1038.3L2018.3 992zM2118.9 899.3L2165.2 945.6L2118.9 991.9L2072.6 945.6zM2171.5 859.7L2217.8 906L2171.5 952.3L2125.2 906zM2221.8 816.1L2268.1 862.4L2221.8 908.7L2175.5 862.4zM2270 767.7L2316.3 814L2270 860.3L2223.7 814zM2211.5 711.2L2257.8 757.5L2211.5 803.8L2165.2 757.5zM2157.2 734.2L2203.5 780.5L2157.2 826.8L2110.9 780.5zM2109.7 739.3L2156 785.6L2109.7 831.9L2063.4 785.6zM2054.3 751.7L2100.6 798L2054.3 844.3L2008 798zM2008.8 763.3L2055.1 809.6L2008.8 855.9L1962.5 809.6zM1957.4 774.7L2003.7 821L1957.4 867.3L1911.1 821zM1905 791.7L1951.3 838L1905 884.3L1858.7 838zM1851.5 815.2L1897.8 861.5L1851.5 907.8L1805.2 861.5zM1800 831.1L1846.3 877.4L1800 923.7L1753.7 877.4zM1748 850.2L1794.3 896.5L1748 942.8L1701.7 896.5zM1693.3 870.7L1739.6 917L1693.3 963.3L1647 917zM1636.7 930.1L1683 976.4L1636.7 1022.7L1590.4 976.4zM1602 921.7L1648.3 968L1602 1014.3L1555.7 968zM1542 941.7L1588.3 988L1542 1034.3L1495.7 988zM1482 969.7L1528.3 1016L1482 1062.3L1435.7 1016zM1450 1013.7L1496.3 1060L1450 1106.3L1403.7 1060zM1383 1037.7L1429.3 1084L1383 1130.3L1336.7 1084zM1329.6 1058.2L1375.9 1104.5L1329.6 1150.8L1283.3 1104.5zM1278.4 1080.7L1324.7 1127L1278.4 1173.3L1232.1 1127zM1224.3 1129.4L1270.6 1175.7L1224.3 1222L1178 1175.7zM1180.5 1144.2L1226.8 1190.5L1180.5 1236.8L1134.2 1190.5zM1128.5 1172.3L1174.8 1218.6L1128.5 1264.9L1082.2 1218.6zM1073.8 1216.1L1120.1 1262.4L1073.8 1308.7L1027.5 1262.4zM1024.5 1240.7L1070.8 1287L1024.5 1333.3L978.2 1287zM967 1277.7L1013.3 1324L967 1370.3L920.7 1324zM916.6 1316.7L962.9 1363L916.6 1409.3L870.3 1363zM870.3 1342.2L916.6 1388.5L870.3 1434.8L824 1388.5zM815.6 1389.5L861.9 1435.8L815.6 1482.1L769.3 1435.8zM767 1417.7L813.3 1464L767 1510.3L720.7 1464zM694.7 1466.4L741 1512.7L694.7 1559L648.4 1512.7zM649.5 1507.1L695.8 1553.4L649.5 1599.7L603.2 1553.4zM606.2 1535.7L652.5 1582L606.2 1628.3L559.9 1582zM557.4 1572.1L603.7 1618.4L557.4 1664.7L511.1 1618.4zM507.7 1605.7L554 1652L507.7 1698.3L461.4 1652z"/>
</g>
</g>
<g class="tk" text-anchor="end">
<text transform="translate(377.5 1705.5) scale(0.9425 1)">0</text>
<text transform="translate(377.5 1507.5) scale(0.9425 1)">20</text>
<text transform="translate(377.5 1309.4) scale(0.9425 1)">40</text>
<text transform="translate(377.5 1111.4) scale(0.9425 1)">60</text>
<text transform="translate(377.5 913.3) scale(0.9425 1)">80</text>
<text transform="translate(377.5 715.3) scale(0.9425 1)">100</text>
<text transform="translate(377.5 517.3) scale(0.9425 1)">120</text>
<text transform="translate(377.5 319.2) scale(0.9425 1)">140</text>
<text transform="translate(377.5 121.2) scale(0.9425 1)">160</text>
</g>
<g class="tk" text-anchor="middle">
<text transform="translate(455 1929.5) scale(0.958 1)">0.0</text>
<text transform="translate(821 1929.5) scale(0.958 1)">0.2</text>
<text transform="translate(1186.9 1929.5) scale(0.958 1)">0.4</text>
<text transform="translate(1552.9 1929.5) scale(0.958 1)">0.6</text>
<text transform="translate(1918.8 1929.5) scale(0.958 1)">0.8</text>
<text transform="translate(2284.8 1929.5) scale(0.958 1)">1.0</text>
</g>
<g filter="url(#thinY)">
<text class="xt" transform="translate(595.6 2084) scale(0.953 1)">Relative pressure <tspan font-size="142.3px" dx="-3">(</tspan>p/p<tspan font-size="93.9px" dy="39.5" dx="2">0</tspan><tspan font-size="142.3px" dy="-39.5" dx="8">)</tspan></text>
</g>
<g filter="url(#thinX)">
<text class="yt" transform="translate(177.3 1536) rotate(-90) scale(0.9755 1)">Volume <tspan font-size="163.4px" dx="2">(</tspan>cm<tspan font-size="106.6px" dy="-74">3</tspan><tspan dy="74" dx="4">/</tspan><tspan dx="4">g</tspan><tspan font-size="163.4px" dx="1">)</tspan></text>
</g>
<rect x="473.6" y="118.5" width="940.7" height="620.3" fill="#fff" stroke="#000" stroke-width="12.5"/>
<g fill="#00ffff">
<rect x="479" y="168.5" width="194.5" height="17"/>
<rect x="541.5" y="145" width="65.8" height="64"/>
</g>
<text class="lg" transform="translate(685.7 205) scale(0.977 1)">S@g-C<tspan font-size="56px" dy="17.5">3</tspan><tspan dy="-17.5">N</tspan><tspan font-size="56px" dy="17.5">4</tspan></text>
<g fill="#000000">
<rect x="479" y="288" width="194.5" height="17"/>
<path d="M569.5 264.2L569.5 259.7L581.5 259.7L581.5 264.2L592.7 264.2L609.3 280.8L609.3 292L613.8 292L613.8 304L609.3 304L609.3 315.2L592.7 331.8L581.5 331.8L581.5 336.3L569.5 336.3L569.5 331.8L558.3 331.8L541.7 315.2L541.7 304L537.2 304L537.2 292L541.7 292L541.7 280.8L558.3 264.2z"/>
</g>
<text class="lg" transform="translate(685.7 324.5) scale(0.977 1)">MoO<tspan font-size="56px" dy="25">3</tspan></text>
<g fill="#ff0000">
<rect x="479" y="410" width="194.5" height="17"/>
<path d="M575.5 371.8L619.5 447.8L531.5 447.8z"/>
</g>
<text class="lg" transform="translate(685.7 446.5) scale(0.977 1)">MoO<tspan font-size="56px" dy="25">3</tspan><tspan dy="-25">/10S@g-C</tspan><tspan font-size="56px" dy="25">3</tspan><tspan dy="-25">N</tspan><tspan font-size="56px" dy="25">4</tspan></text>
<g fill="#00ff00">
<rect x="479" y="530" width="194.5" height="17"/>
<path d="M575.5 593.8L619.5 517.8L531.5 517.8z"/>
</g>
<text class="lg" transform="translate(685.7 566.5) scale(0.977 1)">MoO<tspan font-size="56px" dy="25">3</tspan><tspan dy="-25">/20S@g-C</tspan><tspan font-size="56px" dy="25">3</tspan><tspan dy="-25">N</tspan><tspan font-size="56px" dy="25">4</tspan></text>
<g fill="#0000ff">
<rect x="479" y="652.5" width="194.5" height="17"/>
<path d="M575.5 617.2L621.8 663.5L575.5 709.8L529.2 663.5z"/>
</g>
<text class="lg" transform="translate(685.7 689) scale(0.977 1)">MoO<tspan font-size="56px" dy="25">3</tspan><tspan dy="-25">/30S@g-C</tspan><tspan font-size="56px" dy="25">3</tspan><tspan dy="-25">N</tspan><tspan font-size="56px" dy="25">4</tspan></text>
</svg>
</body></html>
